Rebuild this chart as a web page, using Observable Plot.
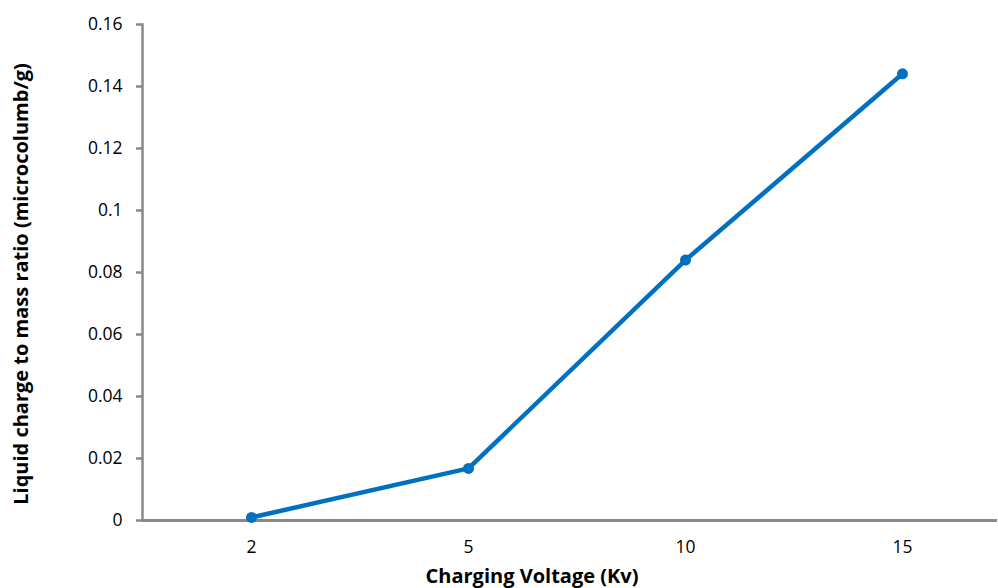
<!DOCTYPE html>
<html>
<head>
<meta charset="utf-8">
<script src="https://cdn.jsdelivr.net/npm/d3@7"></script>
<script src="https://cdn.jsdelivr.net/npm/@observablehq/plot@0.6"></script>
<style>
  html, body { margin: 0; padding: 0; background: #fff; }
  #chart { width: 998px; height: 588px; }
  svg { font-family: "Open Sans", sans-serif; }
</style>
</head>
<body>
<div id="chart"></div>
<script>
const voltages = ["2", "5", "10", "15"];
const chargeRatio = [0.001, 0.0168, 0.084, 0.1441];
const yTicks = [0, 0.02, 0.04, 0.06, 0.08, 0.1, 0.12, 0.14, 0.16];
const xLabel = "Charging Voltage (Kv)";
const yLabel = "Liquid charge to mass ratio (microcolumb/g)";

const data = voltages.map((v, i) => ({v, q: chargeRatio[i]}));
const axisColor = "#898989";
const blue = "#0070C0";

const chart = Plot.plot({
  width: 998,
  height: 588,
  marginLeft: 142,
  marginRight: 1,
  marginTop: 24,
  marginBottom: 68,
  style: {fontFamily: "'Open Sans', sans-serif", fontSize: "17.5px", color: "#000", background: "#fff"},
  x: {type: "point", domain: voltages, range: [142, 1010], padding: 0.5},
  y: {domain: [0, 0.16], range: [520, 24]},
  marks: [
    Plot.axisY({ticks: yTicks, tickSize: 6, tickPadding: 14, stroke: axisColor, strokeWidth: 2.5,
      tickFormat: d => String(+d.toFixed(2)), fontSize: 17.5, fill: "#000", label: null}),
    Plot.axisX({tickSize: 0, tickPadding: 20, fontSize: 17.5, fill: "#000", label: null}),
    Plot.frame({anchor: "left", stroke: axisColor, strokeWidth: 2.5}),
    Plot.ruleY([0], {stroke: axisColor, strokeWidth: 3}),
    Plot.line(data, {x: "v", y: "q", stroke: blue, strokeWidth: 4.5}),
    Plot.dot(data, {x: "v", y: "q", r: 5.5, fill: blue, stroke: "none"})
  ]
});

const svg = d3.select(chart);
svg.append("text")
  .attr("x", 532).attr("y", 583)
  .attr("text-anchor", "middle")
  .attr("font-weight", "bold").attr("font-size", 20).attr("fill", "#000")
  .text(xLabel);
svg.append("text")
  .attr("transform", "translate(28,284) rotate(-90)")
  .attr("text-anchor", "middle")
  .attr("font-weight", "bold").attr("font-size", 20).attr("fill", "#000")
  .text(yLabel);

document.getElementById("chart").appendChild(chart);
</script>
</body>
</html>
